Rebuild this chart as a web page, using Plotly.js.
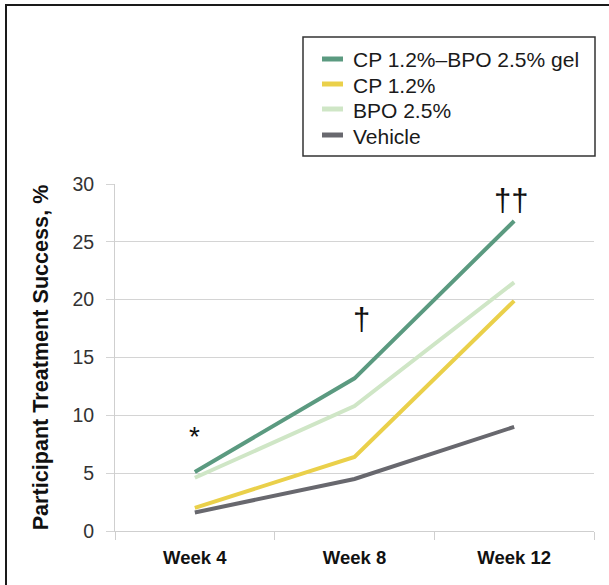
<!DOCTYPE html>
<html>
<head>
<meta charset="utf-8">
<script src="https://cdn.plot.ly/plotly-3.0.1.min.js"></script>
<style>
  html, body { margin: 0; padding: 0; background: #fff; }
  #wrap { position: relative; width: 609px; height: 585px; }
  #chart { width: 609px; height: 585px; }
  #bl { position: absolute; left: 5px; top: 4px; width: 2px; height: 581px; background: #1a1a1a; }
  #bt { position: absolute; left: 5px; top: 4px; width: 604px; height: 2px; background: #1a1a1a; }
</style>
</head>
<body>
<div id="wrap">
  <div id="chart"></div>
  <div id="bl"></div>
  <div id="bt"></div>
</div>
<script>
const weeks = ["Week 4", "Week 8", "Week 12"];
const seriesNames = ["CP 1.2%\u2013BPO 2.5% gel", "CP 1.2%", "BPO 2.5%", "Vehicle"];
const cpBpo = [5.1, 13.2, 26.8];
const cp = [2.0, 6.4, 19.9];
const bpo = [4.6, 10.8, 21.5];
const vehicle = [1.6, 4.5, 9.0];
const colors = ["#5b9a80", "#ead04a", "#cfe6c6", "#68686e"];
const marks = ["*", "\u2020", "\u2020\u2020"];
const markY = [8.2, 18.3, 28.6];
const yTicks = [0, 5, 10, 15, 20, 25, 30];

const allValues = [cpBpo, cp, bpo, vehicle];
const traces = allValues.map((vals, i) => ({
  type: "scatter",
  mode: "lines",
  x: weeks,
  y: vals,
  name: seriesNames[i],
  line: { color: colors[i], width: 4 },
  showlegend: false,
  hoverinfo: "skip"
}));

const font = "'Liberation Sans', Arial, Helvetica, sans-serif";

// plot area in pixels: x 115..594, y 184..531
const PL = 115, PR = 594, PT = 184, PB = 531;
const px = v => (v - PL) / (PR - PL);
const py = v => (PB - v) / (PB - PT);

// legend (box + swatches + labels)
const legendRows = [59, 84, 109, 135];
const shapes = [{
  type: "rect", xref: "paper", yref: "paper",
  x0: px(303), x1: px(595), y0: py(156), y1: py(37),
  line: { color: "#333", width: 1.5 }, fillcolor: "rgba(0,0,0,0)", layer: "above"
}];
const legendAnn = [];
seriesNames.forEach((name, i) => {
  shapes.push({
    type: "line", xref: "paper", yref: "paper",
    x0: px(322), x1: px(343), y0: py(legendRows[i]), y1: py(legendRows[i]),
    line: { color: colors[i], width: 5 }, layer: "above"
  });
  legendAnn.push({
    xref: "paper", yref: "paper", x: px(351), y: py(legendRows[i] + 1),
    xanchor: "left", yanchor: "middle", showarrow: false,
    text: name,
    font: { family: font, size: 21, color: "#1a1a1a" }
  });
});

const layout = {
  width: 609,
  height: 585,
  margin: { l: PL, r: 609 - PR, t: PT, b: 585 - PB },
  paper_bgcolor: "#fff",
  plot_bgcolor: "#fff",
  showlegend: false,
  xaxis: {
    type: "category",
    categoryarray: weeks,
    range: [-0.5, 2.5],
    showgrid: false,
    showline: true, linecolor: "#cfcfcf", linewidth: 1,
    ticks: "outside", tickson: "boundaries", ticklen: 8, tickcolor: "#cfcfcf",
    tickfont: { family: font, size: 18.5, color: "#111", weight: "bold" },
    ticklabelstandoff: 10,
    zeroline: false,
    fixedrange: true
  },
  yaxis: {
    range: [0, 30],
    tickvals: yTicks,
    ticktext: yTicks.map(String),
    showgrid: true, gridcolor: "#d4d4d4", gridwidth: 1,
    showline: true, linecolor: "#cfcfcf", linewidth: 1,
    ticks: "outside", ticklen: 8, tickcolor: "#d4d4d4",
    tickfont: { family: font, size: 19.5, color: "#333" },
    ticklabelstandoff: 8,
    zeroline: false,
    title: {
      text: "Participant Treatment Success, %",
      font: { family: font, size: 21.6, color: "#111", weight: "bold" },
      standoff: 17
    },
    automargin: false,
    fixedrange: true
  },
  shapes: shapes,
  annotations: weeks.map((w, i) => ({
    x: w, y: markY[i], xref: "x", yref: "y",
    text: marks[i], showarrow: false,
    xshift: [0, 7, -3][i],
    font: { family: font, size: i === 0 ? 28 : 31, color: "#111" }
  })).concat(legendAnn)
};

Plotly.newPlot("chart", traces, layout, { displayModeBar: false, staticPlot: true });
</script>
</body>
</html>
